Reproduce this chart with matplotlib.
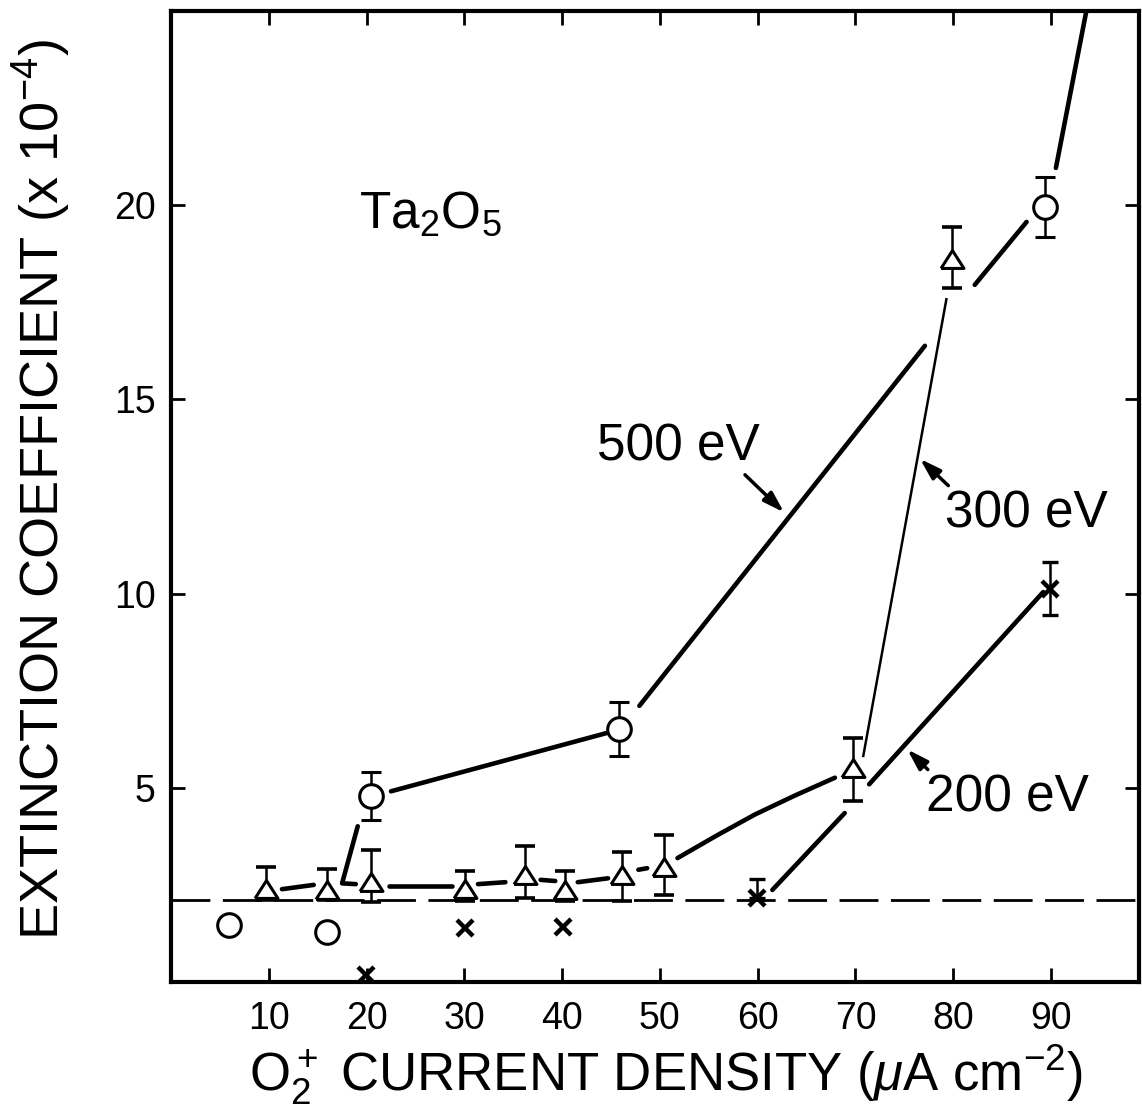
import matplotlib
matplotlib.use('Agg')
import matplotlib.pyplot as plt
import numpy as np

plt.rcParams['font.family'] = ['Liberation Sans', 'DejaVu Sans']
plt.rcParams['mathtext.fontset'] = 'custom'
plt.rcParams['mathtext.rm'] = 'Liberation Sans'
plt.rcParams['mathtext.it'] = 'Liberation Sans:italic'
plt.rcParams['mathtext.bf'] = 'Liberation Sans:bold'

# 500 eV (open circles)
circ_x = [5.9, 16.0, 20.5, 45.8, 89.4]
circ_y = [1.47, 1.29, 4.78, 6.51, 19.95]
circ_err = [0, 0, 0.62, 0.70, 0.77]

# 300 eV (open triangles), asymmetric error bars
tri_x = [9.7, 16.0, 20.5, 30.1, 36.2, 40.3, 46.1, 50.4, 69.8, 79.9]
tri_y = [2.40, 2.38, 2.57, 2.40, 2.76, 2.38, 2.76, 2.97, 5.50, 18.62]
tri_lo = [0.30, 0.28, 0.50, 0.32, 0.61, 0.30, 0.68, 0.73, 0.83, 0.74]
tri_hi = [0.57, 0.53, 0.82, 0.46, 0.75, 0.48, 0.58, 0.81, 0.79, 0.81]

# 200 eV (crosses)
cross_x = [19.9, 30.1, 40.1, 59.9, 89.9]
cross_y = [0.17, 1.38, 1.42, 2.15, 10.13]
cross_lo = [0, 0, 0, 0, 0.69]
cross_hi = [0, 0, 0, 0.50, 0.69]

baseline = 2.1

# hand-drawn guide lines of the original, broken near the markers
lines_500 = [([22.5, 44.7], [4.91, 6.42]),
             ([47.9, 77.1], [7.11, 16.38]),
             ([82.2, 87.5], [17.95, 19.57]),
             ([90.5, 96.0], [20.96, 28.1]),
             ([19.1, 17.5, 18.9], [4.01, 2.54, 2.52])]
lines_300 = [([11.35, 14.6], [2.39, 2.50]),
             ([22.3, 28.7], [2.48, 2.48]),
             ([31.4, 34.2], [2.52, 2.57]),
             ([37.8, 39.3], [2.63, 2.60]),
             ([41.6, 44.7], [2.57, 2.67]),
             ([47.8, 48.7], [2.89, 2.93]),
             ([51.8, 55.8, 59.7, 63.8, 67.9], [3.19, 3.77, 4.31, 4.80, 5.26])]
thin_300 = ([70.8, 79.3], [5.82, 17.58])
lines_200 = [([61.5, 68.9], [2.37, 4.35]),
             ([71.4, 89.2], [5.09, 10.04])]

# labels: text, text position (left, baseline), arrow tail, arrow head
labels = ['500 eV', '300 eV', '200 eV']
label_pos = [(43.6, 13.42), (79.2, 11.71), (77.2, 4.40)]
arrow_tail = [(58.7, 13.06), (79.5, 12.78), (77.4, 5.47)]
arrow_head = [(62.7, 12.09), (76.6, 13.47), (75.3, 5.99)]

fig = plt.figure(figsize=(11.42, 11.13), dpi=100)
ax = fig.add_axes([0.1497, 0.1177, 0.8477, 0.8724])

ax.axhline(baseline, color='black', lw=2, dashes=(14, 4.5), zorder=1)

for xs, ys in lines_500 + lines_300 + lines_200:
    ax.plot(xs, ys, color='black', lw=3.3, solid_capstyle='round',
            solid_joinstyle='round', zorder=2)
ax.plot(thin_300[0], thin_300[1], color='black', lw=1.8, zorder=2)

cx, cy, ce = np.array(circ_x), np.array(circ_y), np.array(circ_err)
m = ce > 0
ax.errorbar(cx[m], cy[m], yerr=ce[m], fmt='o', ms=17, mfc='white', mec='black',
            mew=2.2, ecolor='black', elinewidth=1.8, capsize=7, capthick=2.6, zorder=3)
ax.plot(cx[~m], cy[~m], 'o', ms=17, mfc='white', mec='black', mew=2.2, zorder=3)

tri = [(-1, -0.78), (1, -0.78), (0, 0.78), (-1, -0.78)]
ax.errorbar(tri_x, tri_y, yerr=[tri_lo, tri_hi], fmt='none', ecolor='black',
            elinewidth=1.8, capsize=7, capthick=2.6, zorder=3)
ax.plot(tri_x, tri_y, ls='none', marker=tri, ms=16.5, mfc='white', mec='black',
        mew=2.2, zorder=4)

kx, ky = np.array(cross_x), np.array(cross_y)
klo, khi = np.array(cross_lo), np.array(cross_hi)
k = khi > 0
ax.errorbar(kx[k], ky[k], yerr=[klo[k], khi[k]], fmt='none', ecolor='black',
            elinewidth=1.8, capsize=6, capthick=2.4, zorder=3)
ax.plot(kx, ky, 'x', ms=11, mew=3.2, color='black', zorder=4)

for txt, pos, tail, head in zip(labels, label_pos, arrow_tail, arrow_head):
    ax.text(pos[0], pos[1], txt, fontsize=37, ha='left', va='baseline')
    ax.annotate('', xy=head, xytext=tail,
                arrowprops=dict(arrowstyle='-|>,head_length=0.7,head_width=0.22',
                                color='black', lw=2.5,
                                mutation_scale=18, shrinkA=0, shrinkB=0))

ax.text(19.2, 19.43, r'Ta$_2$O$_5$', fontsize=37, ha='left', va='baseline')

ax.set_xlim(0, 99)
ax.set_ylim(0, 25)
ax.set_xticks([10, 20, 30, 40, 50, 60, 70, 80, 90])
ax.set_yticks([5, 10, 15, 20])
ax.tick_params(direction='in', length=10, width=2, top=True, right=True,
               labelsize=27)
ax.tick_params(axis='x', pad=14)
ax.tick_params(axis='y', pad=11)
for s in ax.spines.values():
    s.set_linewidth(3)

ax.set_xlabel(r'O$_2^+$ CURRENT DENSITY ($\mu$A cm$^{-2}$)', fontsize=38)
ax.xaxis.set_label_coords(0.511, -0.1123)
ax.xaxis.label.set_va('baseline')
ax.set_ylabel(r'EXTINCTION COEFFICIENT (x 10$^{-4}$)', fontsize=39)
ax.yaxis.set_label_coords(-0.134, 0.507)
ax.yaxis.label.set_va('center')

fig.savefig('out.png', dpi=100)
